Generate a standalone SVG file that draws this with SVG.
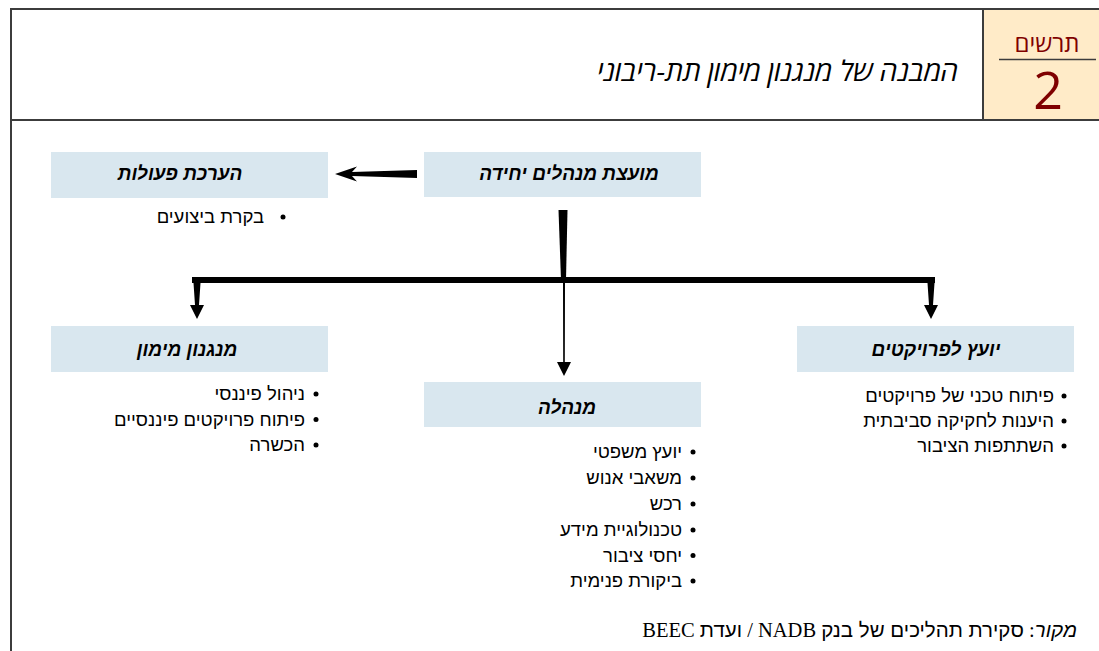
<svg xmlns="http://www.w3.org/2000/svg" width="1099" height="651" viewBox="0 0 1099 651">
<defs>
<style>
.frame{stroke:#3c3c3c;stroke-width:2;fill:none}
.box{fill:#d9e7ef}
.ttl{font-family:"Liberation Sans",Arial,sans-serif;font-size:19px;font-weight:bold;font-style:italic;fill:#000}
.li{font-family:"Liberation Sans",Arial,sans-serif;font-size:18.5px;fill:#000}
.arrow{fill:#000}
</style>
</defs>
<rect x="0" y="0" width="1099" height="651" fill="#ffffff"/>
<g id="header">
<rect x="983" y="9" width="116" height="111" fill="#ffebc8"/>
<line class="frame" x1="11" y1="9" x2="1099" y2="9"/>
<line class="frame" x1="11" y1="8" x2="11" y2="651"/>
<line class="frame" x1="11" y1="120" x2="1099" y2="120"/>
<line class="frame" x1="983" y1="9" x2="983" y2="120"/>
<text x="1047" y="52" text-anchor="middle" font-family="Open Sans, Noto Sans, sans-serif" font-size="24" fill="#7f0000">תרשים</text>
<line x1="999" y1="59.5" x2="1096" y2="59.5" stroke="#3c3c3c" stroke-width="1.5"/>
<text x="1048" y="109" text-anchor="middle" font-family="Open Sans, Noto Sans, sans-serif" font-size="52" fill="#7f0000">2</text>
<text x="958" y="81" direction="rtl" text-anchor="start" font-family="Open Sans, Noto Sans, sans-serif" font-size="28" font-style="italic" fill="#000">המבנה של מנגנון מימון תת-ריבוני</text>
</g>
<g id="connectors">
<polygon class="arrow" points="417,170 417,178 352,176 357,181.5 335,174 357,166.5 352,172"/>
<polygon class="arrow" points="558.5,210 567.5,210 566,280 561,280"/>
<rect class="arrow" x="192" y="277" width="743" height="6"/>
<polygon class="arrow" points="193.5,283 200.5,283 199,305 204,305 197,319 190,305 195,305"/>
<polygon class="arrow" points="927.5,283 934.5,283 933,305 938,305 931,319 924,305 929,305"/>
<polygon class="arrow" points="563,283 565,283 564.8,362 571,362 564,376 557,362 563.2,362"/>
</g>
<g id="node-board">
<rect class="box" x="424" y="152" width="277" height="45"/>
<text class="ttl" x="569" y="180" direction="rtl" text-anchor="middle">מועצת מנהלים יחידה</text>
</g>
<g id="node-eval">
<rect class="box" x="51" y="152" width="277" height="46"/>
<text class="ttl" x="180" y="180" direction="rtl" text-anchor="middle">הערכת פעולות</text>
<circle cx="283" cy="217" r="2.5"/>
<text class="li" x="264" y="223" direction="rtl" text-anchor="start">בקרת ביצועים</text>
</g>
<g id="node-funding">
<rect class="box" x="51" y="326" width="277" height="46"/>
<text class="ttl" x="187" y="356" direction="rtl" text-anchor="middle">מנגנון מימון</text>
<circle cx="316" cy="394" r="2.5"/>
<circle cx="316" cy="419.5" r="2.5"/>
<circle cx="316" cy="445" r="2.5"/>
<text class="li" x="305" y="400" direction="rtl" text-anchor="start">ניהול פיננסי</text>
<text class="li" x="305" y="425.5" direction="rtl" text-anchor="start">פיתוח פרויקטים פיננסיים</text>
<text class="li" x="305" y="451" direction="rtl" text-anchor="start">הכשרה</text>
</g>
<g id="node-admin">
<rect class="box" x="424" y="382" width="277" height="45"/>
<text class="ttl" x="567" y="414" direction="rtl" text-anchor="middle">מנהלה</text>
<circle cx="693" cy="452" r="2.5"/>
<circle cx="693" cy="478" r="2.5"/>
<circle cx="693" cy="504" r="2.5"/>
<circle cx="693" cy="530" r="2.5"/>
<circle cx="693" cy="555.5" r="2.5"/>
<circle cx="693" cy="581" r="2.5"/>
<text class="li" x="682" y="458" direction="rtl" text-anchor="start">יועץ משפטי</text>
<text class="li" x="682" y="484" direction="rtl" text-anchor="start">משאבי אנוש</text>
<text class="li" x="682" y="510" direction="rtl" text-anchor="start">רכש</text>
<text class="li" x="682" y="536" direction="rtl" text-anchor="start">טכנולוגיית מידע</text>
<text class="li" x="682" y="561.5" direction="rtl" text-anchor="start">יחסי ציבור</text>
<text class="li" x="682" y="587" direction="rtl" text-anchor="start">ביקורת פנימית</text>
</g>
<g id="node-advisor">
<rect class="box" x="797" y="326" width="277" height="46"/>
<text class="ttl" x="936" y="356" direction="rtl" text-anchor="middle">יועץ לפרויקטים</text>
<circle cx="1064" cy="396" r="2.5"/>
<circle cx="1064" cy="421" r="2.5"/>
<circle cx="1064" cy="446" r="2.5"/>
<text class="li" x="1054" y="402" direction="rtl" text-anchor="start">פיתוח טכני של פרויקטים</text>
<text class="li" x="1054" y="427" direction="rtl" text-anchor="start">היענות לחקיקה סביבתית</text>
<text class="li" x="1054" y="452" direction="rtl" text-anchor="start">השתתפות הציבור</text>
</g>
<g id="source">
<text x="1077" y="637" direction="rtl" text-anchor="start" font-family="Liberation Serif, serif" font-size="20.5" fill="#000"><tspan font-family="Liberation Sans, sans-serif" font-style="italic">מקור</tspan>: <tspan font-family="Liberation Sans, sans-serif">סקירת תהליכים של בנק</tspan> NADB / <tspan font-family="Liberation Sans, sans-serif">ועדת</tspan> BEEC</text>
</g>
</svg>
